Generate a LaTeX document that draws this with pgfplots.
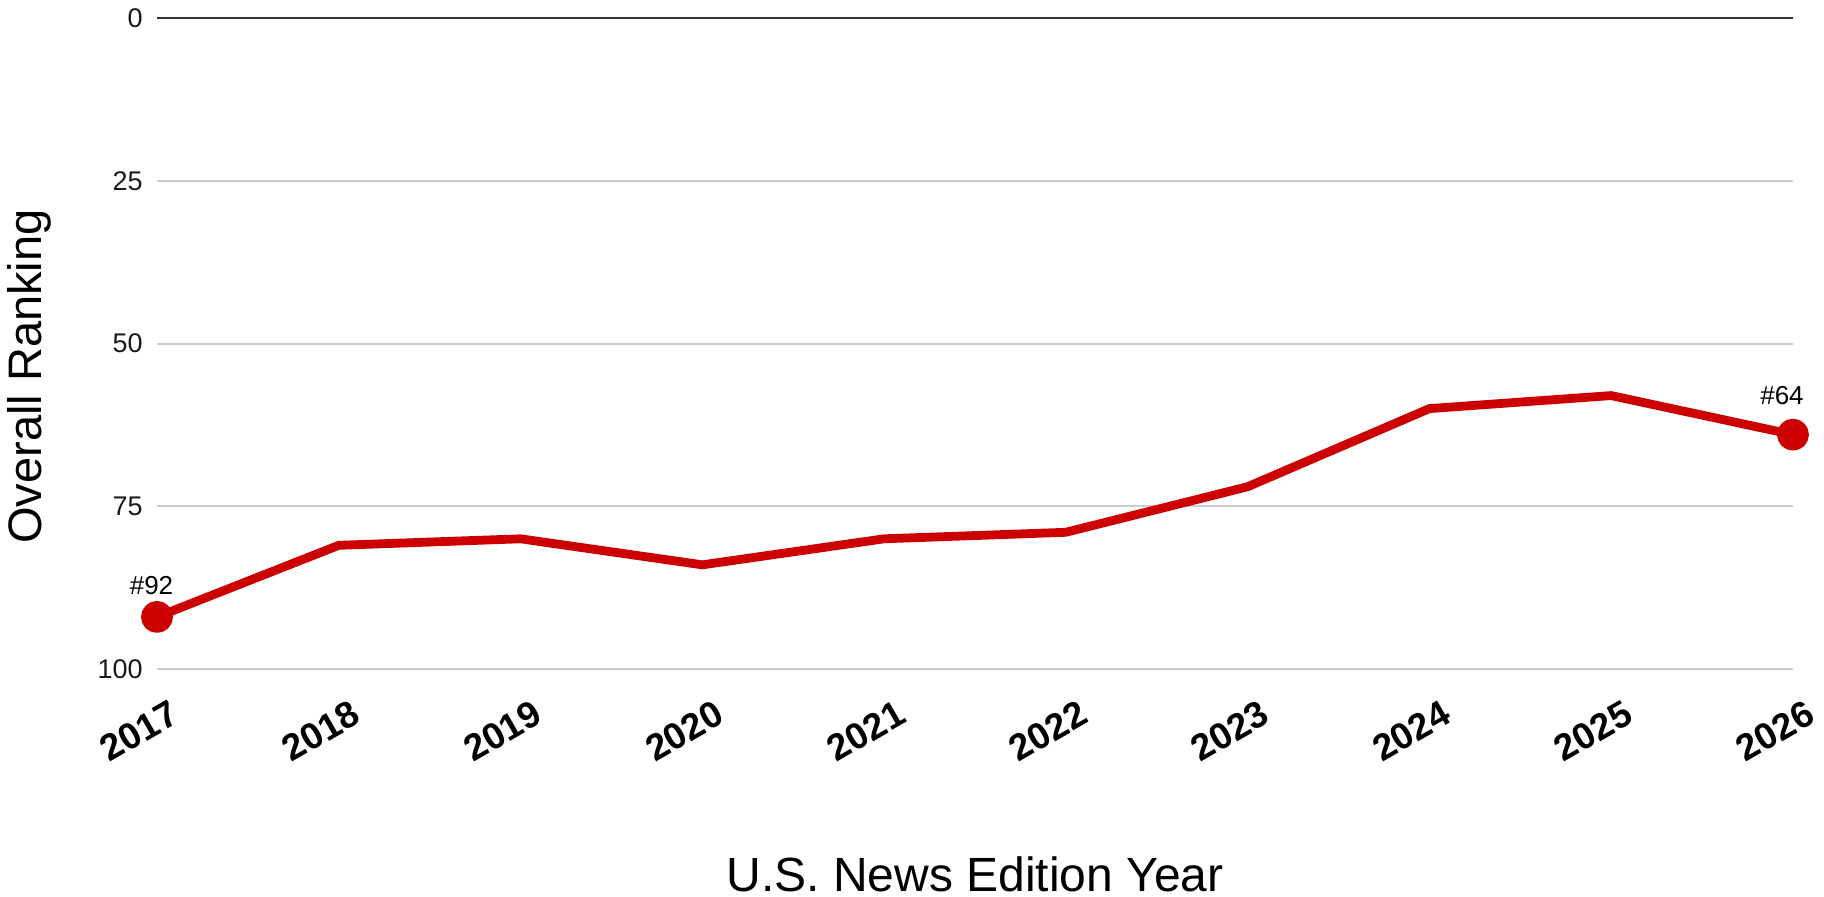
\documentclass[border=0pt]{standalone}
\usepackage{pgfplots}
\pgfplotsset{compat=1.18}
\usepackage{fontspec}
\setmainfont{Liberation Sans}
\definecolor{linered}{HTML}{CC0000}
\definecolor{gridgray}{HTML}{CCCCCC}
\definecolor{zeroline}{HTML}{333333}
\definecolor{ticktext}{HTML}{1A1A1A}
\begin{document}
\begin{tikzpicture}
\begin{axis}[
  name=ax,
  scale only axis,
  width=818pt, height=325.5pt,
  xmin=2017, xmax=2026,
  ymin=0, ymax=100,
  y dir=reverse,
  clip=false,
  axis line style={draw=none},
  major tick length=0pt,
  /pgf/number format/assume math mode=true,
  xtick={2017,2018,2019,2020,2021,2022,2023,2024,2025,2026},
  xticklabels={2017,2018,2019,2020,2021,2022,2023,2024,2025,2026},
  xticklabel style={font=\fontsize{18.5}{21}\selectfont\bfseries, text=black, inner sep=0pt, anchor=center, xshift=-9pt, yshift=-31pt, rotate=30},
  ytick={25,50,75,100},
  extra y ticks={0},
  extra y tick style={grid style={color=zeroline, line width=1pt}},
  yticklabel style={font=\fontsize{13.5}{16}\selectfont, text=ticktext, inner sep=0pt, anchor=east, xshift=-7pt},
  ymajorgrids=true,
  grid style={color=gridgray, line width=1pt},
  xlabel={U.S. News Edition Year},
  ylabel={Overall Ranking},
  xlabel style={font=\fontsize{24}{28}\selectfont, text=black, at={(axis description cs:0.5,0)}, anchor=base, inner sep=0pt, yshift=-111pt},
  ylabel style={font=\fontsize{23.5}{28}\selectfont, text=black, at={([xshift=-52.5pt,yshift=-16.5pt]axis description cs:0,0.5)}, anchor=south, inner sep=0pt, rotate=0},
]
\addplot[color=linered, line width=4.4pt, line join=round, mark=*, mark indices={1,10}, mark size=5.75pt, mark options={draw=none, fill=linered}] coordinates {
  (2017,92) (2018,81) (2019,80) (2020,84) (2021,80)
  (2022,79) (2023,72) (2024,60) (2025,58) (2026,64)
};
\node[font=\fontsize{13}{15}\selectfont, anchor=base, inner sep=0pt, xshift=-2.75pt, yshift=11pt] at (axis cs:2017,92) {\#92};
\node[font=\fontsize{13}{15}\selectfont, anchor=base, inner sep=0pt, xshift=-5.5pt, yshift=15pt] at (axis cs:2026,64) {\#64};
\end{axis}
\pgfresetboundingbox
\path[use as bounding box] ([shift={(-78.5pt,-114pt)}]ax.south west) rectangle ([shift={(833.5pt,334.5pt)}]ax.south west);
\end{tikzpicture}
\end{document}
